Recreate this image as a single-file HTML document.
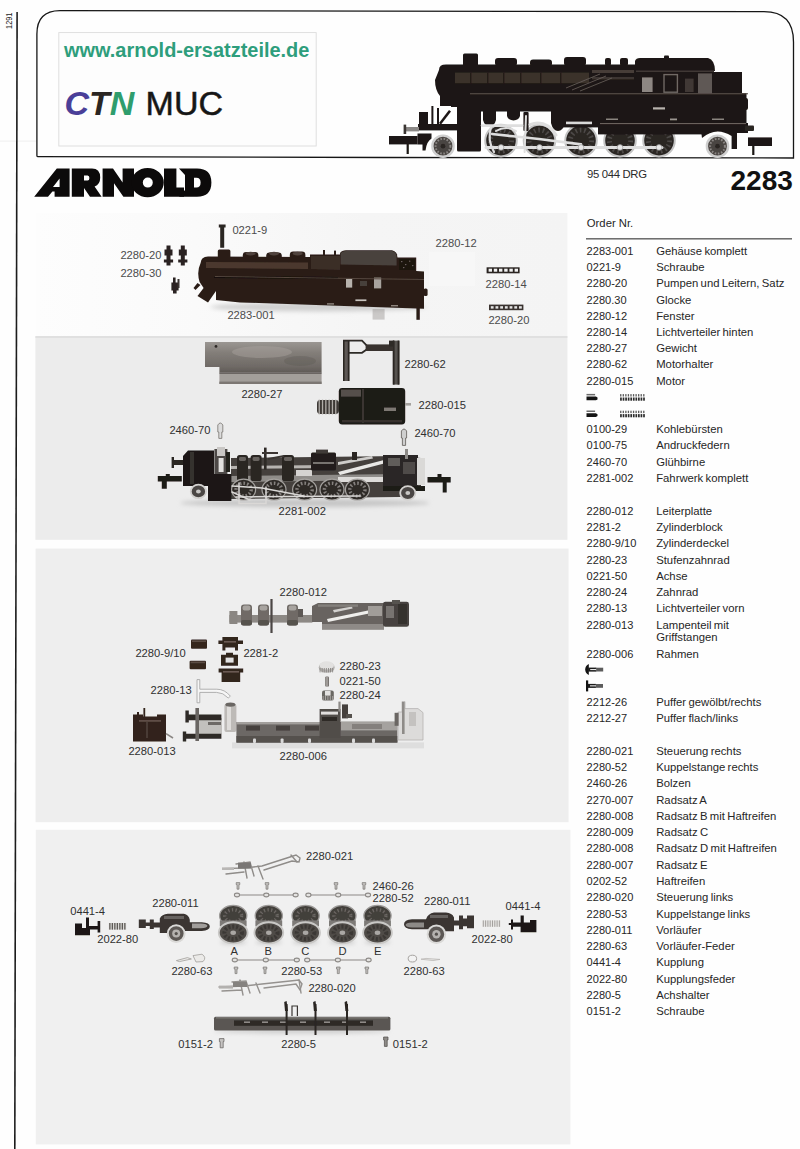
<!DOCTYPE html>
<html lang="de">
<head>
<meta charset="utf-8">
<title>Arnold 2283 - 95 044 DRG - Ersatzteile</title>
<style>
html,body{margin:0;padding:0;background:#fefefe;}
body{width:800px;height:1149px;overflow:hidden;position:relative;font-family:"Liberation Sans",sans-serif;}
svg{position:absolute;left:0;top:0;display:block;}
text{font-family:"Liberation Sans",sans-serif;}
.lbl{font-size:11.2px;fill:#303030;}
.row{font-size:11.3px;fill:#262626;}
</style>
</head>
<body>
<svg width="800" height="1149" viewBox="0 0 800 1149">
<rect x="0" y="140.600" width="36" height="1" fill="#efefef"/>
<path d="M17.1 12 L14.8 1149" stroke="#1c1c1c" stroke-width="1.600" fill="none"/>
<text transform="translate(11.900 28.900) rotate(-90)" font-size="9" fill="#222" textLength="16.200" lengthAdjust="spacingAndGlyphs">1291</text>
<rect x="58.800" y="32.600" width="257.400" height="113.400" fill="#fdfdfd" stroke="#dcdcdc" stroke-width=".9"/>
<text x="64" y="57.4" font-size="20" font-weight="bold" fill="#2e9e7c" textLength="245.400" lengthAdjust="spacingAndGlyphs">www.arnold-ersatzteile.de</text>
<text x="64.5" y="115" font-size="34" font-weight="bold" font-style="italic"><tspan fill="#4a3f98">C</tspan><tspan fill="#2b2622">T</tspan><tspan fill="#2f9d6d">N</tspan></text>
<text x="145.6" y="115" font-size="34" fill="#161616" stroke="#161616" stroke-width=".5">MUC</text>
<path d="M384 157.500 L38 156.700 Q36.900 156.700 36.900 155.400 L36.900 34 Q36.900 10.600 60 10.600 L764 11.700 Q793.500 11.700 793.500 42 L793.500 158 L384 157.500" stroke="#161616" stroke-width="1.300" fill="none"/>
<g id="loco" filter="url(#soft)">
<circle cx="443" cy="146.2" r="10.6" fill="#4a4542" stroke="#cfcfcf" stroke-width="2.4"/>
<circle cx="443" cy="146.2" r="7.4" fill="none" stroke="#8b8785" stroke-width="2" stroke-dasharray="1.6 1.6"/>
<circle cx="443" cy="146.2" r="2.4" fill="#2a2624"/>
<circle cx="717.5" cy="146.2" r="10.6" fill="#4a4542" stroke="#cfcfcf" stroke-width="2.4"/>
<circle cx="717.5" cy="146.2" r="7.4" fill="none" stroke="#8b8785" stroke-width="2" stroke-dasharray="1.6 1.6"/>
<circle cx="717.5" cy="146.2" r="2.4" fill="#2a2624"/>
<circle cx="501" cy="140.6" r="15.800" fill="#2a2624" stroke="#c4c4c4" stroke-width="2"/>
<circle cx="501" cy="140.6" r="10.600" fill="none" stroke="#4d4947" stroke-width="5" stroke-dasharray="1.600 2.800"/>
<circle cx="539.5" cy="140.6" r="15.800" fill="#2a2624" stroke="#c4c4c4" stroke-width="2"/>
<circle cx="539.5" cy="140.6" r="10.600" fill="none" stroke="#4d4947" stroke-width="5" stroke-dasharray="1.600 2.800"/>
<circle cx="581" cy="140.6" r="15.800" fill="#2a2624" stroke="#c4c4c4" stroke-width="2"/>
<circle cx="581" cy="140.6" r="10.600" fill="none" stroke="#4d4947" stroke-width="5" stroke-dasharray="1.600 2.800"/>
<circle cx="620" cy="140.6" r="15.800" fill="#2a2624" stroke="#c4c4c4" stroke-width="2"/>
<circle cx="620" cy="140.6" r="10.600" fill="none" stroke="#4d4947" stroke-width="5" stroke-dasharray="1.600 2.800"/>
<circle cx="659" cy="140.6" r="15.800" fill="#2a2624" stroke="#c4c4c4" stroke-width="2"/>
<circle cx="659" cy="140.6" r="10.600" fill="none" stroke="#4d4947" stroke-width="5" stroke-dasharray="1.600 2.800"/>
<g fill="#1d1614">
<rect x="389" y="136" width="28.5" height="8.4"/>
<rect x="406.6" y="143" width="2.2" height="11"/>
<rect x="748" y="137.4" width="24" height="8.6"/>
<rect x="752.2" y="145" width="2.2" height="10"/>
<path d="M417.5 133.6 h14 v5 q-5 3 -6 12 h-3 v-6 h-5 z"/>
<rect x="418" y="124" width="42" height="6.4"/>
<rect x="419" y="112" width="9" height="13"/>
<rect x="431.4" y="106" width="2" height="19"/>
<rect x="437" y="108" width="2" height="17"/>
<path d="M439 123 L449 110 L451 111.4 L441 124.4 Z"/>
<path d="M439 70 Q439 64.6 446 64.6 L640 64.6 L640 96 L452 96 L452 106 L440 106 L440 96 Q435 90 435 80 Z"/>
<rect x="451" y="92" width="30" height="15"/>
<rect x="457" y="92" width="24" height="59.400" rx="1.500"/>
<rect x="463" y="53.6" width="15" height="13" rx="1.5"/>
<rect x="495" y="58" width="22" height="8" rx="3"/>
<rect x="530" y="59.6" width="22" height="7" rx="3"/>
<rect x="564" y="57" width="22" height="9" rx="3"/>
<rect x="605" y="58" width="6" height="8" rx="2"/>
<rect x="620" y="58" width="8" height="8" rx="2"/>
<path d="M469 93 L746.500 93 L746.500 123.400 L556 123.400 L556 111.400 L469 111.400 Z"/>
<path d="M483 111 h13 v9 q-1.500 6 -6.500 6 q-5 0 -6.500 -6 z"/>
<path d="M507 111 h13 v5 q-1.500 4.400 -6.500 4.400 q-5 0 -6.500 -4.400 z"/>
<rect x="523.400" y="112" width="5.200" height="19" rx="1"/>
<path d="M551 111 h14 v12 q-2 8 -7 8 q-5 0 -7 -8 z"/>
<rect x="560" y="121" width="186" height="6.400"/>
<rect x="598" y="126" width="104" height="8.400"/>
<path d="M635 71 L635 61 Q636 58 640 58 L708 58 Q715 60 715 71 Z"/>
<rect x="635" y="70" width="79" height="26"/>
<rect x="713" y="72" width="29" height="24"/>
<rect x="664" y="55.6" width="5" height="4" rx="1"/>
<path d="M700 123 L748 123 L748 133 L737 133 L737 149 L731.6 149 L731.6 136 Q716 126 702 138 Z"/>
<rect x="742" y="98" width="6" height="12" rx="2"/>
<rect x="745" y="125.600" width="9" height="5.400" rx="1" fill="#2a2624"/>
</g>
<rect x="406" y="127" width="13" height="4.4" fill="#8b8886"/>
<rect x="403.6" y="124.6" width="2.6" height="9.4" fill="#3a3533"/>
<rect x="642" y="77.400" width="10.600" height="14.600" fill="#8d8783"/>
<rect x="664" y="74.600" width="13.400" height="17.600" fill="none" stroke="#6f6965" stroke-width="1.400"/>
<rect x="698" y="73.400" width="14" height="20" fill="#5f5955"/>
<rect x="685" y="78.600" width="8.600" height="13.400" fill="#3f3936"/>
<rect x="636" y="70.600" width="78" height="1.200" fill="#4a433f"/>
<rect x="653" y="107.3" width="12" height="2.2" fill="#b8b3ae"/>
<rect x="670" y="118.5" width="7" height="1.8" fill="#9a9590"/>
<rect x="606" y="118.5" width="12" height="1.5" fill="#8a8580"/>
<rect x="712" y="118.5" width="12" height="1.5" fill="#8a8580"/>
<rect x="470" y="93.2" width="278" height="1.1" fill="#5a524d"/>
<rect x="566" y="121.600" width="26" height="2.600" fill="#d9d9d9"/>
<rect x="600" y="123" width="146" height="1.100" fill="#6a625d"/>
<rect x="455" y="72.600" width="134" height="10.600" fill="#3b312c"/>
<rect x="470" y="72.600" width="1.400" height="10.600" fill="#241b18"/>
<rect x="487" y="72.600" width="1.400" height="10.600" fill="#241b18"/>
<rect x="503" y="72.600" width="1.400" height="10.600" fill="#241b18"/>
<rect x="520" y="72.600" width="1.400" height="10.600" fill="#241b18"/>
<rect x="540" y="72.600" width="1.400" height="10.600" fill="#241b18"/>
<rect x="560" y="72.600" width="1.400" height="10.600" fill="#241b18"/>
<rect x="592" y="70" width="42" height="3" fill="#463d38"/>
<rect x="592" y="77" width="42" height="2.400" fill="#3d3430"/>
<path d="M566 88 L600 74 M572 90 L606 76 M580 91 L612 78" stroke="#6a635e" stroke-width=".8" fill="none"/>
<g stroke="#dedede" fill="none" stroke-linecap="round">
<path d="M486 147.400 L662 147.400" stroke-width="3"/>
<path d="M492 134 L539 139 L581 144.400" stroke-width="2.600"/>
<path d="M482 125.600 L522 125.600" stroke-width="2.600"/>
<path d="M526 116 L524.600 152" stroke-width="2"/>
<path d="M530 124.600 Q546 119 556 135" stroke-width="3"/>
<path d="M491 127 Q487 140 494 152" stroke-width="2.200"/>
<path d="M496 131 Q506 125 516 131" stroke-width="2"/>
</g>
<g fill="#e8e8e8" stroke="#8d8d8d" stroke-width=".6">
<circle cx="501" cy="147.400" r="2.800"/>
<circle cx="539.5" cy="147.400" r="2.800"/>
<circle cx="581" cy="147.400" r="2.800"/>
<circle cx="620" cy="147.400" r="2.800"/>
<circle cx="659" cy="147.400" r="2.800"/>
</g>
</g>

<g id="arnold-logo" fill="#0c0a0a">
<path fill-rule="evenodd" d="M34.2 196.8 L56.8 168.6 L69.6 168.6 L69.600 196.800 L54.600 196.800 L54.600 191.400 L52.400 191.400 L48 196.800 Z M59.6 178.6 L59.6 187 L53 187 Z"/>
<path fill-rule="evenodd" d="M71.8 168.6 L92 168.6 Q100.2 168.6 100.2 177.6 Q100.2 184.6 94.6 186.6 L101.6 196.8 L90 196.8 L84 188 L84 196.8 L71.8 196.8 Z M84 175.4 L87.6 175.4 Q89.4 175.4 89.4 178 Q89.4 180.6 87.6 180.6 L84 180.6 Z"/>
<path d="M102.6 168.6 L113 168.6 L122.6 182.4 L122.6 168.6 L134 168.6 L134 196.8 L123.4 196.8 L114 183.2 L114 196.8 L102.6 196.8 Z"/>
<path fill-rule="evenodd" d="M147.6 168 A16.2 14.6 0 1 0 147.6 197.2 A16.2 14.6 0 1 0 147.6 168 Z M147.8 177.6 A5 5 0 1 1 147.8 187.6 A5 5 0 1 1 147.8 177.6 Z"/>
<path d="M164 168.6 L176.4 168.6 L176.4 187.6 L184 187.6 L184 196.8 L164 196.8 Z"/>
<path fill-rule="evenodd" d="M179 168.6 L197 168.6 Q211.4 168.6 211.4 182.6 Q211.4 196.8 197 196.8 L179 196.8 L185 190 L185 175 Z M194 177.8 L196.4 177.8 Q200.6 177.8 200.6 182.6 Q200.6 187.6 196.4 187.6 L194 187.6 Z"/>
</g>

<text x="587" y="177.6" font-size="11.3" fill="#2a2a2a" textLength="60" lengthAdjust="spacing">95 044 DRG</text>
<text x="730.5" y="190" font-size="28" font-weight="bold" fill="#111">2283</text>
<defs><linearGradient id="gP1" x1="0" y1="0" x2="1" y2="0"><stop offset="0" stop-color="#fdfdfd"/><stop offset=".3" stop-color="#fafafa"/><stop offset=".62" stop-color="#f5f5f5"/><stop offset="1" stop-color="#f4f4f4"/></linearGradient><linearGradient id="gWeight" x1="0" y1="0" x2="0" y2="1"><stop offset="0" stop-color="#9a9692"/><stop offset=".35" stop-color="#837e79"/><stop offset=".8" stop-color="#6f6a66"/><stop offset="1" stop-color="#5f5a56"/></linearGradient><filter id="shadow" x="-10%" y="-80%" width="120%" height="260%"><feGaussianBlur stdDeviation="2.200"/></filter><filter id="soft" x="-5%" y="-5%" width="110%" height="110%"><feGaussianBlur stdDeviation=".45"/></filter></defs>
<g id="panel1">
<rect x="36" y="213" width="531.400" height="123.500" fill="url(#gP1)"/>
<rect x="429" y="252" width="46" height="34" fill="#f7f7f7"/>
<g filter="url(#soft)">
<path d="M218.8 224.4 h6.8 v3 h-1.400 v20.400 h-4 v-20.400 h-1.400 z" fill="#2a2522"/>
<path d="M166.5 245.5 h4 v4 h2 v6 h-2 v4 h2.6 v3 h-2.6 v3 h-4 v-3 h-2.6 v-3 h2.6 v-4 h-2 v-6 h2 z" fill="#2a2421"/>
<path d="M180.8 245.5 h4 v4 h2 v6 h-2 v4 h2.6 v3 h-2.6 v3 h-4 v-3 h-2.6 v-3 h2.6 v-4 h-2 v-6 h2 z" fill="#2a2421"/>
<path d="M173 277.5 h2.6 v5 h3 v8 h-2 v3 h-3.6 v-3 h-1.6 v-8 h1.6 z" fill="#2a2421"/>
<rect x="177.5" y="279" width="2" height="9" fill="#3a3431"/>
</g>
<ellipse cx="318" cy="307" rx="108" ry="4.400" fill="#cfcfcf" filter="url(#shadow)"/>
<g filter="url(#soft)">
<g fill="#2a1d17">
<path d="M200.6 263 Q201 256.400 208 256.400 L310 257 L310 254.600 L340 254.600 L340 253 Q342 250.200 346 250.200 L392 250.200 Q397.500 251.400 397.500 257.400 L416.200 257.600 L416.200 271 L424 271.600 L424 308.800 L330 305.600 L240 302.400 L216 300 L216 291 L208 302.400 L197.500 296 L203.600 288 L199.600 282 Q196.400 272 200.600 263 Z"/>
<rect x="217.800" y="249.400" width="12.600" height="9" rx="1.600"/>
<rect x="242.800" y="252" width="15.600" height="8" rx="3.400"/>
<rect x="266.200" y="252.400" width="15.600" height="7.600" rx="3.400"/>
<rect x="289.800" y="251.600" width="15.600" height="8" rx="3.400"/>
<rect x="323" y="250" width="2" height="7"/>
<rect x="334" y="250.600" width="2" height="6"/>
<rect x="416.400" y="304" width="3.400" height="15.800"/>
<rect x="423.600" y="288.400" width="4" height="7.600" rx="1.600"/>
<path d="M197.500 283 l-4 5 l2 2 l5 -5 z"/>
</g>
<rect x="372.600" y="309" width="12" height="10.600" fill="#8d8884" opacity=".4"/>
<path d="M206 262 L308 262.600 L308 269 L206 268 Z" fill="#4b392f"/>
<path d="M214 276 L338 277 L338 279 L214 278 Z" fill="#120b08"/>
<path d="M340.600 253.600 Q342 251 346 251 L392 251 Q396.600 252 396.600 257 L396.600 265.600 L340.600 264.600 Z" fill="#4a423e"/>
<path d="M311 256 L340 256 L340 270 L311 269 Z" fill="#3a2d27"/>
<rect x="399" y="259" width="16" height="11" fill="#1a120e"/>
<rect x="401" y="261" width="1.400" height="1.200" fill="#6b625d"/>
<rect x="405" y="264" width="1.400" height="1.200" fill="#6b625d"/>
<rect x="409" y="260.6" width="1.400" height="1.200" fill="#6b625d"/>
<rect x="412" y="265" width="1.400" height="1.200" fill="#6b625d"/>
<rect x="403" y="267" width="1.400" height="1.200" fill="#6b625d"/>
<ellipse cx="250.6" cy="253.600" rx="5" ry="1.800" fill="#50433c"/>
<ellipse cx="274" cy="253.600" rx="5" ry="1.800" fill="#50433c"/>
<ellipse cx="297.6" cy="253.600" rx="5" ry="1.800" fill="#50433c"/>
<rect x="346" y="279" width="6.200" height="8.600" fill="#b7b2ad"/>
<rect x="374" y="277.600" width="7.200" height="10.800" fill="#a8a39e"/>
<rect x="360" y="281" width="7" height="5" fill="#47403b"/>
<rect x="355.400" y="299.400" width="11" height="1.700" fill="#c9c4bf"/>
<rect x="327" y="303.200" width="7" height="1.400" fill="#8e857e"/>
<rect x="391" y="305" width="7" height="1.400" fill="#8e857e"/>
<path d="M214.700 276 L424 279 L424 280 L214.700 277 Z" fill="#54463e"/>
</g>
<rect x="486.600" y="267.300" width="33" height="6" fill="#2a2421"/>
<rect x="488.6" y="268.700" width="3.400" height="3" fill="#f2f2f2"/>
<rect x="493.8" y="268.700" width="3.400" height="3" fill="#f2f2f2"/>
<rect x="499.0" y="268.700" width="3.400" height="3" fill="#f2f2f2"/>
<rect x="504.20000000000005" y="268.700" width="3.400" height="3" fill="#f2f2f2"/>
<rect x="509.40000000000003" y="268.700" width="3.400" height="3" fill="#f2f2f2"/>
<rect x="514.6" y="268.700" width="3.400" height="3" fill="#f2f2f2"/>
<rect x="489" y="304.6" width="34.4" height="5.6" fill="#3a3330"/>
<rect x="490.8" y="306.2" width="2.8" height="2.4" fill="#e6e6e6"/>
<rect x="495.5" y="306.2" width="2.8" height="2.4" fill="#e6e6e6"/>
<rect x="500.2" y="306.2" width="2.8" height="2.4" fill="#e6e6e6"/>
<rect x="504.90000000000003" y="306.2" width="2.8" height="2.4" fill="#e6e6e6"/>
<rect x="509.6" y="306.2" width="2.8" height="2.4" fill="#e6e6e6"/>
<rect x="514.3" y="306.2" width="2.8" height="2.4" fill="#e6e6e6"/>
<rect x="519.0" y="306.2" width="2.8" height="2.4" fill="#e6e6e6"/>
<text class="lbl" x="232.4" y="233.8" style="fill:#4c4c4c">0221-9</text>
<text class="lbl" x="120.4" y="259.2" style="fill:#4c4c4c">2280-20</text>
<text class="lbl" x="120.4" y="276.6" style="fill:#4c4c4c">2280-30</text>
<text class="lbl" x="227.4" y="319.2" style="fill:#4c4c4c">2283-001</text>
<text class="lbl" x="435.6" y="247.2" style="fill:#4c4c4c">2280-12</text>
<text class="lbl" x="485.6" y="287.8" style="fill:#4c4c4c">2280-14</text>
<text class="lbl" x="488.4" y="323.8" style="fill:#4c4c4c">2280-20</text>
</g>
<g id="panel2">
<rect x="35.4" y="336.2" width="532" height="203.6" fill="#ececec"/>
<rect x="35.4" y="336.2" width="532" height="1.6" fill="#dcdcdc"/>
<g filter="url(#soft)">
<path d="M205 342 L321.6 342 L321.6 372.6 L219.4 372.6 L219.4 367 L205 367 Z" fill="url(#gWeight)"/>
<ellipse cx="262" cy="352" rx="30" ry="6" fill="#aaa59f" opacity=".45"/>
<ellipse cx="300" cy="361" rx="16" ry="5" fill="#5d5853" opacity=".35"/>
<rect x="219.4" y="373.4" width="102.2" height="10.6" fill="#a29e9a"/>
<rect x="219.4" y="381.6" width="102.2" height="2.4" fill="#7b7773"/>
<rect x="219.4" y="372.4" width="102.2" height="1.4" fill="#56514d"/>
<circle cx="216" cy="346.4" r="1.4" fill="#2f2b28"/>
</g>
<g filter="url(#soft)">
<rect x="343" y="340" width="6.400" height="41" fill="#5d5955"/>
<rect x="343" y="340" width="1.600" height="41" fill="#2b2724"/>
<rect x="347.800" y="340" width="1.600" height="41" fill="#2b2724"/>
<rect x="392.800" y="340.600" width="6.600" height="44" fill="#57534f"/>
<rect x="392.800" y="340.600" width="1.800" height="44" fill="#2b2724"/>
<rect x="397.600" y="340.600" width="1.800" height="44" fill="#2b2724"/>
<path d="M343 340.600 L362 340.600 L366.600 345.400 M349 352.800 L362 352.800 L366.600 349.600" fill="none" stroke="#2f2b28" stroke-width="1.800"/>
<rect x="365.600" y="344.400" width="27.600" height="6.600" fill="#37332f"/>
<rect x="389" y="340.600" width="5" height="6" fill="#2f2b28"/>
</g>
<g filter="url(#soft)">
<rect x="338.8" y="388" width="66.4" height="36.4" rx="3.4" fill="#1f1a18"/>
<rect x="341" y="389.6" width="20" height="7" fill="#55504c"/>
<rect x="362" y="389" width="2" height="34" fill="#3b3633"/>
<rect x="384" y="407.6" width="12" height="3.4" fill="#7d7873"/>
<rect x="342" y="420" width="60" height="2.4" fill="#38332f"/>
<rect x="405" y="403" width="6" height="2.6" fill="#a5a29f"/>
<rect x="317" y="400" width="22" height="14" rx="3.4" fill="#3d3835"/>
<rect x="318.6" y="399.6" width="1.3" height="14.8" fill="#b1ada9"/>
<rect x="321.90000000000003" y="399.6" width="1.3" height="14.8" fill="#b1ada9"/>
<rect x="325.20000000000005" y="399.6" width="1.3" height="14.8" fill="#b1ada9"/>
<rect x="328.5" y="399.6" width="1.3" height="14.8" fill="#b1ada9"/>
<rect x="331.8" y="399.6" width="1.3" height="14.8" fill="#b1ada9"/>
<rect x="335.1" y="399.6" width="1.3" height="14.8" fill="#b1ada9"/>
</g>
<path d="M217.8 425 q2.5 -4 5 0 v7 h-1 v6.4 h-3 v-6.4 h-1 z" fill="#dcdcdc" stroke="#77736f" stroke-width=".8"/>
<path d="M401.4 431 q2.6 -4 5.2 0 v7 h-1 v7.4 h-3.2 v-7.4 h-1 z" fill="#cfcfcf" stroke="#5d5955" stroke-width=".8"/>
<ellipse cx="305" cy="503" rx="125" ry="4" fill="#c6c6c6" filter="url(#shadow)"/>
<g filter="url(#soft)">
<path d="M157.800 476 h8 v-2 h4 v2 h12 v5.400 h-15 v7.400 h-5 v-7.400 h-4 z" fill="#1f1b19"/>
<path d="M427.500 477 h10 v-3 h4 v3 h9.200 v5.400 h-4 v10 h-4 v-10 h-15.200 z" fill="#1f1b19"/>
<rect x="173" y="460" width="12" height="5" fill="#2a2624"/>
<rect x="171.6" y="457" width="2.4" height="11" fill="#2a2624"/>
<path d="M231 458 L400 456 L421 458 L421 487 L400 497 L231 499 Z" fill="#45413e"/>
<path d="M231 476 L400 474 L400 480 L231 482 Z" fill="#8f8c89"/>
<path d="M231 466 L330 465 L330 468 L231 469 Z" fill="#b7b4b1"/>
<path d="M183 456 L188 450.6 L214 450.6 L214 474 L231.4 474 L231.4 501 L208 501 L208 486 L183 486 Z" fill="#1b1715"/>
<rect x="190" y="452" width="4" height="32" fill="#34302d"/>
<rect x="214.4" y="449" width="13" height="25" fill="#4d4946"/>
<rect x="217" y="447" width="8" height="9" fill="#c9c7c5"/>
<rect x="218.6" y="458" width="5" height="14" fill="#e2e1df"/>
<rect x="226" y="452" width="4" height="20" fill="#24201e"/>
<rect x="237" y="455" width="11" height="26" rx="2.6" fill="#2a2623"/>
<rect x="239" y="457" width="7" height="4" rx="1.4" fill="#67635f"/>
<rect x="250.6" y="455" width="11" height="26" rx="2.6" fill="#2a2623"/>
<rect x="252.6" y="457" width="7" height="4" rx="1.4" fill="#67635f"/>
<rect x="282" y="455" width="12" height="26" rx="2.6" fill="#2a2623"/>
<rect x="284" y="457" width="8" height="4" rx="1.4" fill="#67635f"/>
<rect x="264" y="447.6" width="2.6" height="22" fill="#2d2926"/>
<path d="M262 452 h16 v2 h-16 z M268 458 l16 -3 v2 l-16 3 z" fill="#3a3633"/>
<rect x="296" y="470" width="16" height="6" fill="#d5d3d1"/>
<rect x="311" y="452.4" width="25" height="18" rx="1.5" fill="#221e1c"/>
<rect x="316" y="449.6" width="12" height="4" fill="#3f3b38"/>
<rect x="313" y="462" width="21" height="2" fill="#77736f"/>
<path d="M338 472 L384 460 L386 463 L340 475 Z" fill="#e9e8e6"/>
<path d="M338 462 L372 456 L373 458.4 L338 465 Z" fill="#cfcdcb"/>
<rect x="352" y="452" width="5" height="8" fill="#2a2623"/>
<rect x="338" y="477" width="46" height="5" fill="#dddbd9"/>
<rect x="383" y="455" width="35" height="31" fill="#2c2825"/>
<rect x="388" y="458" width="12" height="8" fill="#615d5a"/>
<rect x="405" y="449" width="3" height="10" fill="#8d8a87"/>
<rect x="403" y="462" width="12" height="12" fill="#4f4b48"/>
<path d="M417 458 h8 v27 h-8 z" fill="#dad9d7"/>
<path d="M383 486 h42 v5 h-42 z" fill="#1f1b19"/>
<ellipse cx="243.6" cy="489.6" rx="12" ry="10.4" fill="#2f2b28" stroke="#a5a29f" stroke-width="1.2"/>
<ellipse cx="243.6" cy="489.6" rx="7.6" ry="6.4" fill="none" stroke="#85817e" stroke-width="3.4" stroke-dasharray="1.6 2"/>
<ellipse cx="274" cy="489.6" rx="12" ry="10.4" fill="#2f2b28" stroke="#a5a29f" stroke-width="1.2"/>
<ellipse cx="274" cy="489.6" rx="7.6" ry="6.4" fill="none" stroke="#85817e" stroke-width="3.4" stroke-dasharray="1.6 2"/>
<ellipse cx="304.6" cy="489.6" rx="12" ry="10.4" fill="#2f2b28" stroke="#a5a29f" stroke-width="1.2"/>
<ellipse cx="304.6" cy="489.6" rx="7.6" ry="6.4" fill="none" stroke="#85817e" stroke-width="3.4" stroke-dasharray="1.6 2"/>
<ellipse cx="332" cy="489.6" rx="12" ry="10.4" fill="#2f2b28" stroke="#a5a29f" stroke-width="1.2"/>
<ellipse cx="332" cy="489.6" rx="7.6" ry="6.4" fill="none" stroke="#85817e" stroke-width="3.4" stroke-dasharray="1.6 2"/>
<ellipse cx="357.4" cy="489.6" rx="12" ry="10.4" fill="#2f2b28" stroke="#a5a29f" stroke-width="1.2"/>
<ellipse cx="357.4" cy="489.6" rx="7.6" ry="6.4" fill="none" stroke="#85817e" stroke-width="3.4" stroke-dasharray="1.6 2"/>
<ellipse cx="198.4" cy="491.4" rx="7.6" ry="6.8" fill="#4b4744" stroke="#d3d1cf" stroke-width="1.8"/>
<ellipse cx="198.4" cy="491.4" rx="2.4" ry="2" fill="#c9c7c5"/>
<ellipse cx="407.8" cy="493" rx="7.6" ry="6.8" fill="#4b4744" stroke="#d3d1cf" stroke-width="1.8"/>
<ellipse cx="407.8" cy="493" rx="2.4" ry="2" fill="#c9c7c5"/>
<g stroke="#dad8d6" stroke-width="1.5" fill="none" stroke-linecap="round">
<path d="M236 497 L360 496"/>
<path d="M232 486 L262 488 L304 496"/>
<path d="M239 483 L239 503.6 L266 503.6 L266 487"/>
<path d="M232 492 L250 500"/>
</g>
</g>
<text class="lbl" x="241.4" y="397.5">2280-27</text>
<text class="lbl" x="404.6" y="368.1">2280-62</text>
<text class="lbl" x="418.6" y="408.7">2280-015</text>
<text class="lbl" x="169.4" y="434.2">2460-70</text>
<text class="lbl" x="414.4" y="437.4">2460-70</text>
<text class="lbl" x="278.6" y="514.7">2281-002</text>
</g>
<g id="panel3">
<rect x="35.600" y="548.600" width="533" height="273.600" fill="#eeeeee"/>
<g filter="url(#soft)">
<rect x="229.4" y="615" width="83" height="7.6" fill="#8d8985"/>
<rect x="229.4" y="611" width="8" height="13" fill="#8a8682"/>
<rect x="241" y="604.4" width="11" height="21" rx="3" fill="#6f6a66"/>
<rect x="242.6" y="605.6" width="7.8" height="5" rx="2" fill="#a8a4a0"/>
<rect x="241" y="620" width="11" height="5.4" rx="2" fill="#57524e"/>
<rect x="258" y="604.4" width="11" height="21" rx="3" fill="#6f6a66"/>
<rect x="259.6" y="605.6" width="7.8" height="5" rx="2" fill="#a8a4a0"/>
<rect x="258" y="620" width="11" height="5.4" rx="2" fill="#57524e"/>
<rect x="287" y="604.4" width="11" height="21" rx="3" fill="#6f6a66"/>
<rect x="288.6" y="605.6" width="7.8" height="5" rx="2" fill="#a8a4a0"/>
<rect x="287" y="620" width="11" height="5.4" rx="2" fill="#57524e"/>
<rect x="270.4" y="599" width="2.2" height="34" fill="#4b4744"/>
<rect x="298" y="609" width="5" height="8" fill="#5d5955"/>
<path d="M312 606 L318 603 L384 603 L384 629.4 L322 629.4 L322 622 L312 622 Z" fill="#686460"/>
<rect x="322" y="624" width="62" height="5.4" fill="#8e8a87"/>
<path d="M327 619 L368 610.6 L369 613.6 L328 622 Z" fill="#efeeec"/>
<path d="M333 610 L352 606.4 L352.6 608.6 L334 612.4 Z" fill="#d3d1cf"/>
<rect x="318" y="604.4" width="40" height="2.4" fill="#84807c"/>
<rect x="368" y="606" width="14" height="10" fill="#a19d99"/>
<rect x="383" y="601.800" width="26" height="25" rx="2.400" fill="#47433f"/>
<rect x="392" y="600" width="8" height="4" fill="#57534f"/>
<rect x="386" y="606" width="8" height="12" fill="#77736f"/>
<rect x="398" y="604" width="9" height="20" fill="#35312e"/>
</g>
<g filter="url(#soft)">
<rect x="191" y="639.6" width="16" height="9.2" rx="1" fill="#34261f"/>
<rect x="189.6" y="660.8" width="16.4" height="8.4" rx="1" fill="#34261f"/>
<rect x="192" y="640.4" width="14" height="1.6" fill="#5c4d45"/>
<rect x="190.6" y="661.6" width="14.4" height="1.6" fill="#5c4d45"/>
<g fill="#33251f">
<path d="M222.4 637 h15.6 v3.4 h5 v3.6 h-5 v6.6 h-3 v-3 h-9.6 v3 h-3 v-6.6 h-4 v-3.6 h4 z"/>
<path d="M221 654.8 h5 v-2 h7 v2 h5 v11 h-17 z"/>
<path d="M218.6 668.6 h24.6 v4 h-3 v9.4 h-18.6 v-9.4 h-3 z"/>
</g>
<rect x="225.6" y="657.6" width="8" height="5" fill="#e3e3e3"/>
<rect x="224" y="641" width="12" height="1.6" fill="#6a5a52"/>
<rect x="223" y="671" width="16" height="1.6" fill="#6a5a52"/>
</g>
<g filter="url(#soft)">
<ellipse cx="326.7" cy="667.4" rx="8" ry="5.4" fill="#b5b3b1"/>
<ellipse cx="326.7" cy="665.4" rx="7.2" ry="4.2" fill="#e2e1e0"/>
<rect x="319.6" y="668" width=".9" height="4.4" fill="#8a8784"/>
<rect x="321.70000000000005" y="668" width=".9" height="4.4" fill="#8a8784"/>
<rect x="323.8" y="668" width=".9" height="4.4" fill="#8a8784"/>
<rect x="325.90000000000003" y="668" width=".9" height="4.4" fill="#8a8784"/>
<rect x="328.0" y="668" width=".9" height="4.4" fill="#8a8784"/>
<rect x="330.1" y="668" width=".9" height="4.4" fill="#8a8784"/>
<rect x="332.20000000000005" y="668" width=".9" height="4.4" fill="#8a8784"/>
<rect x="325.2" y="676.4" width="3.8" height="10.2" rx="1.2" fill="#77736f"/>
<rect x="326.4" y="677" width="1.2" height="9" fill="#b8b5b2"/>
<rect x="322" y="690.4" width="11.8" height="10.2" rx="2" fill="#6b6763"/>
<rect x="325" y="691" width="5.6" height="4.6" fill="#e4e3e1"/>
<rect x="322.6" y="696" width="1" height="4.4" fill="#a9a6a3"/>
<rect x="325.0" y="696" width="1" height="4.4" fill="#a9a6a3"/>
<rect x="327.40000000000003" y="696" width="1" height="4.4" fill="#a9a6a3"/>
<rect x="329.8" y="696" width="1" height="4.4" fill="#a9a6a3"/>
<rect x="332.20000000000005" y="696" width="1" height="4.4" fill="#a9a6a3"/>
</g>
<path d="M197 679.6 h2.8 v9.6 h17 q8 0 13.6 7 l-2.2 1.8 q-5 -5.6 -11.6 -5.6 h-16.8 v10.4 h-2.8 z" fill="#f6f6f6" stroke="#a9a9a9" stroke-width=".9" filter="url(#soft)"/>
<g filter="url(#soft)">
<path d="M133 714.6 h10 v2 h14 v-2 h9 v26.8 h-33 z" fill="#30231d"/>
<rect x="143.4" y="708" width="1.8" height="9" fill="#30231d"/>
<rect x="137" y="712" width="2" height="5" fill="#30231d"/>
<rect x="139" y="720" width="22" height="1.8" fill="#5e4e46"/>
<rect x="146" y="722" width="2" height="16" fill="#4a3b34"/>
<path d="M166 733.6 l7 4.4" stroke="#8a8683" stroke-width="1.6"/>
</g>
<g filter="url(#soft)">
<rect x="232" y="742.4" width="192" height="6" fill="#dedede"/>
<rect x="199" y="718" width="23" height="16" fill="#c2c0bd"/>
<path d="M185.4 710.4 h3.4 v4 h32.6 v5.8 h-32.6 v2.4 h-3.4 z" fill="#2d2926"/>
<path d="M182.8 731.4 h3.4 v2.4 h35.2 v5 h-35.2 v2.8 h-3.4 z" fill="#2d2926"/>
<rect x="195.400" y="708" width="3.600" height="33" fill="#6a6663"/>
<rect x="208" y="722" width="13" height="3" fill="#6d6966"/>
<rect x="224.4" y="704" width="12" height="28" rx="2" fill="#bdbab7"/>
<rect x="227" y="706" width="4" height="24" fill="#dfdddb"/>
<ellipse cx="230.4" cy="704.6" rx="5" ry="2.2" fill="#6a6663"/>
<rect x="236.4" y="722" width="161" height="20.6" fill="#6c6865"/>
<rect x="236.4" y="722" width="84" height="2.4" fill="#a29f9c"/>
<rect x="236.4" y="736" width="161" height="6.6" fill="#55514e"/>
<rect x="246" y="725.6" width="14" height="5" fill="#45413e"/>
<rect x="276" y="725.6" width="14" height="5" fill="#45413e"/>
<rect x="305" y="725.6" width="14" height="5" fill="#45413e"/>
<rect x="253" y="738.6" width="3" height="4.4" rx="1" fill="#d9d9d9"/>
<rect x="280.6" y="738.6" width="3" height="4.4" rx="1" fill="#d9d9d9"/>
<rect x="308" y="738.6" width="3" height="4.4" rx="1" fill="#d9d9d9"/>
<rect x="352" y="738.6" width="3" height="4.4" rx="1" fill="#d9d9d9"/>
<rect x="372" y="738.6" width="3" height="4.4" rx="1" fill="#d9d9d9"/>
<rect x="319.6" y="709" width="21" height="29" fill="#514d4a"/>
<rect x="321" y="711.6" width="17" height="3" fill="#e1dfdd"/>
<rect x="322" y="717" width="15" height="4" fill="#2f2b28"/>
<rect x="338.4" y="701.6" width="2.2" height="10" fill="#8d8a87"/>
<rect x="342" y="704.4" width="6" height="14" fill="#44403d"/>
<rect x="346" y="714" width="6" height="4" fill="#55514e"/>
<rect x="341" y="721.4" width="56" height="9" fill="#a5a29f"/>
<rect x="352" y="724" width="30" height="5" fill="#84807d"/>
<path d="M398 712 h4 v-10.4 h3 v7 h13 l5 4 v27.4 h-25 z" fill="#dcdbda" stroke="#b5b3b1" stroke-width=".8"/>
<rect x="394.6" y="712.8" width="4" height="13" fill="#6a6663"/>
<rect x="402" y="702" width="2.6" height="32" fill="#8e8b88"/>
<rect x="409" y="712" width="7" height="14" fill="#c4c2c0"/>
</g>
<text class="lbl" x="279.6" y="595.7">2280-012</text>
<text class="lbl" x="135.4" y="657.0">2280-9/10</text>
<text class="lbl" x="243.4" y="657.0">2281-2</text>
<text class="lbl" x="339.6" y="669.7">2280-23</text>
<text class="lbl" x="339.6" y="684.5">0221-50</text>
<text class="lbl" x="339.6" y="699.1">2280-24</text>
<text class="lbl" x="150.6" y="693.9">2280-13</text>
<text class="lbl" x="128.4" y="754.7">2280-013</text>
<text class="lbl" x="279.6" y="760.3">2280-006</text>
</g>
<g id="panel4">
<rect x="35.800" y="829.800" width="534.600" height="314.600" fill="#f0f0f0"/>
<g filter="url(#soft)">
<g stroke="#8f8c89" stroke-width="1.4" fill="none" stroke-linecap="round">
<path d="M223 868.6 L244 868 L262 866 L290 857 L296 855 L300 858 L299 862 L292 861 L264 870"/>
<path d="M226 874 L244 872 M236 864 L250 862 L254 876 M244 862 L247 878 M258 866 L263 879"/>
<path d="M291 855 L297 862"/>
</g>
<rect x="238" y="862.6" width="13" height="6" fill="#7a7774"/>
<rect x="222" y="867.4" width="12" height="2.6" fill="#b9b7b5"/>
<g stroke="#95928f" stroke-width="1.4" fill="none" stroke-linecap="round">
<path d="M219 987 L244 986 L262 984 L290 981 L299 980 L302 984 L300 990 L296 984 L264 988"/>
<path d="M222 991 L242 990 M232 982 L246 981 L250 993 M240 980 L243 995 M256 983 L260 993"/>
<path d="M299 980 L301 993"/>
</g>
<rect x="233" y="982" width="14" height="5" fill="#85827f"/>
<rect x="219" y="985.6" width="14" height="3" fill="#b3b1af"/>
</g>
<g stroke="#8d8a87" stroke-width="1.1" fill="#e4e3e1" filter="url(#soft)">
<path d="M236 895 L296.6 895"/>
<ellipse cx="237" cy="895" rx="2.6" ry="1.9"/>
<ellipse cx="266.3" cy="895" rx="2.6" ry="1.9"/>
<ellipse cx="295.6" cy="895" rx="2.6" ry="1.9"/>
<path d="M307.4 895 L369 895"/>
<ellipse cx="308.4" cy="895" rx="2.6" ry="1.9"/>
<ellipse cx="338.2" cy="895" rx="2.6" ry="1.9"/>
<ellipse cx="368" cy="895" rx="2.6" ry="1.9"/>
<path d="M233.8 960 L297.8 960"/>
<ellipse cx="234.8" cy="960" rx="2.6" ry="1.9"/>
<ellipse cx="265.8" cy="960" rx="2.6" ry="1.9"/>
<ellipse cx="296.8" cy="960" rx="2.6" ry="1.9"/>
<path d="M306.2 960 L369.6 960"/>
<ellipse cx="307.2" cy="960" rx="2.6" ry="1.9"/>
<ellipse cx="337.9" cy="960" rx="2.6" ry="1.9"/>
<ellipse cx="368.6" cy="960" rx="2.6" ry="1.9"/>
</g>
<g fill="#c1bfbd" stroke="#6d6a67" stroke-width=".6">
<path d="M236.2 882.6 h3.6 v2 h-.8 v4.6 h-2 v-4.6 h-.8 z"/>
<path d="M265.2 882.6 h3.6 v2 h-.8 v4.6 h-2 v-4.6 h-.8 z"/>
<path d="M334.2 882.6 h3.6 v2 h-.8 v4.6 h-2 v-4.6 h-.8 z"/>
<path d="M362.2 882.6 h3.6 v2 h-.8 v4.6 h-2 v-4.6 h-.8 z"/>
<path d="M234.2 967 h3.6 v2 h-.8 v4.6 h-2 v-4.6 h-.8 z"/>
<path d="M263.2 967 h3.6 v2 h-.8 v4.6 h-2 v-4.6 h-.8 z"/>
<path d="M336.5 967 h3.6 v2 h-.8 v4.6 h-2 v-4.6 h-.8 z"/>
<path d="M365.0 967 h3.6 v2 h-.8 v4.6 h-2 v-4.6 h-.8 z"/>
</g>
<ellipse cx="233.2" cy="942" rx="13" ry="2.600" fill="#cccccc" filter="url(#shadow)"/>
<ellipse cx="268.8" cy="942" rx="13" ry="2.600" fill="#cccccc" filter="url(#shadow)"/>
<ellipse cx="305.6" cy="942" rx="13" ry="2.600" fill="#cccccc" filter="url(#shadow)"/>
<ellipse cx="342.4" cy="942" rx="13" ry="2.600" fill="#cccccc" filter="url(#shadow)"/>
<ellipse cx="377.5" cy="942" rx="13" ry="2.600" fill="#cccccc" filter="url(#shadow)"/>
<g filter="url(#soft)">
<g><ellipse cx="233.2" cy="915.8" rx="13.600" ry="10.400" fill="#433f3b" stroke="#9d9b99" stroke-width="1.300"/><ellipse cx="233.2" cy="915.8" rx="8.4" ry="6" fill="none" stroke="#6b6763" stroke-width="3.400" stroke-dasharray="1.300 2.300"/><rect x="219.79999999999998" y="920.4" width="26.800" height="6" fill="#7d7a77"/><ellipse cx="233.2" cy="932.8" rx="14.400" ry="10.600" fill="#4f4b47" stroke="#c9c8c6" stroke-width="1.900"/><ellipse cx="233.2" cy="932.8" rx="8.8" ry="6.2" fill="none" stroke="#3b3734" stroke-width="4" stroke-dasharray="2 1.8"/><ellipse cx="233.2" cy="932.8" rx="2.8" ry="2.2" fill="#aaa7a4"/></g>
<g><ellipse cx="268.8" cy="915.8" rx="13.600" ry="10.400" fill="#433f3b" stroke="#9d9b99" stroke-width="1.300"/><ellipse cx="268.8" cy="915.8" rx="8.4" ry="6" fill="none" stroke="#6b6763" stroke-width="3.400" stroke-dasharray="1.300 2.300"/><rect x="255.4" y="920.4" width="26.800" height="6" fill="#7d7a77"/><ellipse cx="268.8" cy="932.8" rx="14.400" ry="10.600" fill="#4f4b47" stroke="#c9c8c6" stroke-width="1.900"/><ellipse cx="268.8" cy="932.8" rx="8.8" ry="6.2" fill="none" stroke="#3b3734" stroke-width="4" stroke-dasharray="2 1.8"/><ellipse cx="268.8" cy="932.8" rx="2.8" ry="2.2" fill="#aaa7a4"/></g>
<g><ellipse cx="305.6" cy="915.8" rx="13.600" ry="10.400" fill="#433f3b" stroke="#9d9b99" stroke-width="1.300"/><ellipse cx="305.6" cy="915.8" rx="8.4" ry="6" fill="none" stroke="#6b6763" stroke-width="3.400" stroke-dasharray="1.300 2.300"/><rect x="292.20000000000005" y="920.4" width="26.800" height="6" fill="#7d7a77"/><ellipse cx="305.6" cy="932.8" rx="14.400" ry="10.600" fill="#4f4b47" stroke="#c9c8c6" stroke-width="1.900"/><ellipse cx="305.6" cy="932.8" rx="8.8" ry="6.2" fill="none" stroke="#3b3734" stroke-width="4" stroke-dasharray="2 1.8"/><ellipse cx="305.6" cy="932.8" rx="2.8" ry="2.2" fill="#aaa7a4"/></g>
<g><ellipse cx="342.4" cy="915.8" rx="13.600" ry="10.400" fill="#433f3b" stroke="#9d9b99" stroke-width="1.300"/><ellipse cx="342.4" cy="915.8" rx="8.4" ry="6" fill="none" stroke="#6b6763" stroke-width="3.400" stroke-dasharray="1.300 2.300"/><rect x="329.0" y="920.4" width="26.800" height="6" fill="#7d7a77"/><ellipse cx="342.4" cy="932.8" rx="14.400" ry="10.600" fill="#4f4b47" stroke="#c9c8c6" stroke-width="1.900"/><ellipse cx="342.4" cy="932.8" rx="8.8" ry="6.2" fill="none" stroke="#3b3734" stroke-width="4" stroke-dasharray="2 1.8"/><ellipse cx="342.4" cy="932.8" rx="2.8" ry="2.2" fill="#aaa7a4"/></g>
<g><ellipse cx="377.5" cy="915.8" rx="13.600" ry="10.400" fill="#433f3b" stroke="#9d9b99" stroke-width="1.300"/><ellipse cx="377.5" cy="915.8" rx="8.4" ry="6" fill="none" stroke="#6b6763" stroke-width="3.400" stroke-dasharray="1.300 2.300"/><rect x="364.1" y="920.4" width="26.800" height="6" fill="#7d7a77"/><ellipse cx="377.5" cy="932.8" rx="14.400" ry="10.600" fill="#4f4b47" stroke="#c9c8c6" stroke-width="1.900"/><ellipse cx="377.5" cy="932.8" rx="8.8" ry="6.2" fill="none" stroke="#3b3734" stroke-width="4" stroke-dasharray="2 1.8"/><ellipse cx="377.5" cy="932.8" rx="2.8" ry="2.2" fill="#aaa7a4"/></g>
</g>
<g filter="url(#soft)">
<path d="M138.8 919.6 h7 v3 h4 v-3 h4 v3 h6 v-4 q2 -4.4 8 -4.8 h16 q5 1 6 6 v2.4 h12 q8 .4 8 4.4 q0 4 -8 4.4 h-22 v2 h-20 v-5.6 h-6 v1.6 h-4 v-3 h-4 v2 h-7 z" fill="#3a3532"/>
<path d="M192 923.4 h9 q6.4 .2 6.4 2.4 q0 2.2 -6.4 2.4 h-9 z" fill="#a19e9b"/>
<rect x="164" y="916" width="20" height="3" fill="#66625e"/>
<circle cx="176.2" cy="933.6" r="8.4" fill="#5d5955" stroke="#dad9d7" stroke-width="2"/>
<circle cx="176.2" cy="933.6" r="4" fill="#b5b2af"/>
<circle cx="176.2" cy="933.6" r="1.6" fill="#55514e"/>
<path d="M474 915.4 h-7 v3 h-4 v-3 h-4 v5 h-5 v-3 q-2 -4.4 -8 -4.8 h-12 q-6 1 -8 6.6 h-14 q-8 .4 -8 5 q0 4.6 8 5 h22 v2 h20 v-5.6 h5 v3.6 h4 v-3 h4 v2 h7 z" fill="#3a3532"/>
<path d="M424 922.4 h-12 q-6.4 .2 -6.4 2.6 q0 2.4 6.4 2.6 h12 z" fill="#8d8a87"/>
<rect x="430" y="915" width="18" height="3" fill="#66625e"/>
<circle cx="436.4" cy="934.2" r="8.8" fill="#5d5955" stroke="#dad9d7" stroke-width="2"/>
<circle cx="436.4" cy="934.2" r="4.2" fill="#b5b2af"/>
<circle cx="436.4" cy="934.2" r="1.6" fill="#55514e"/>
</g>
<g filter="url(#soft)" fill="#1c1917">
<path d="M75 923.400 h7 v4.600 h4 v-10.400 h3 v8.400 h8.600 v-5 h2.600 v11.600 h-2.600 v-3 h-7.600 v5.600 h-15 z"/>
<path d="M536.400 920 h-6.400 v2.400 h-6.200 v-6.800 h-3.200 v6.800 h-7.600 v-3 h-2 v3.600 h-2.200 v2 h2.200 v4.400 h2 v-2.600 h7.600 v5.400 h15.800 z"/>
</g>
<rect x="108.8" y="923" width="17.4" height="6.6" fill="#d9d8d6"/>
<rect x="109.2" y="923" width="1.3" height="6.6" fill="#5e5a56"/>
<rect x="111.7" y="923" width="1.3" height="6.6" fill="#5e5a56"/>
<rect x="114.2" y="923" width="1.3" height="6.6" fill="#5e5a56"/>
<rect x="116.7" y="923" width="1.3" height="6.6" fill="#5e5a56"/>
<rect x="119.2" y="923" width="1.3" height="6.6" fill="#5e5a56"/>
<rect x="121.7" y="923" width="1.3" height="6.6" fill="#5e5a56"/>
<rect x="124.2" y="923" width="1.3" height="6.6" fill="#5e5a56"/>
<rect x="482.4" y="920.4" width="18.2" height="6.4" fill="#e6e5e3"/>
<rect x="482.8" y="920.4" width="1" height="6.4" fill="#a3a09d"/>
<rect x="485.1" y="920.4" width="1" height="6.4" fill="#a3a09d"/>
<rect x="487.40000000000003" y="920.4" width="1" height="6.4" fill="#a3a09d"/>
<rect x="489.7" y="920.4" width="1" height="6.4" fill="#a3a09d"/>
<rect x="492.0" y="920.4" width="1" height="6.4" fill="#a3a09d"/>
<rect x="494.3" y="920.4" width="1" height="6.4" fill="#a3a09d"/>
<rect x="496.6" y="920.4" width="1" height="6.4" fill="#a3a09d"/>
<rect x="498.90000000000003" y="920.4" width="1" height="6.4" fill="#a3a09d"/>
<path d="M176.400 960.6 l11 -3 l4 1.400 l-12 2.600 z M193 955.600 l9 -1.400 q5 3.400 1 7.400 l-7 .4 z" fill="#ebeae8" stroke="#a19e9b" stroke-width=".8"/>
<path d="M440 959.400 l-14 -1 l-5 .8 l12 1.400 z" fill="#e6e5e3" stroke="#b5b2af" stroke-width=".7"/>
<ellipse cx="412.4" cy="958.6" rx="4.2" ry="3.4" fill="#f3f3f3" stroke="#a5a29f" stroke-width="1"/>
<ellipse cx="302" cy="1031" rx="88" ry="2.600" fill="#cdcdcd" filter="url(#shadow)"/>
<g filter="url(#soft)">
<rect x="214" y="1016.800" width="176.400" height="13.600" rx="1.500" fill="#5a5653"/>
<rect x="234" y="1020.400" width="139" height="5.400" fill="#2d2926"/>
<rect x="216" y="1017" width="172" height="1.6" fill="#77736f"/>
<rect x="244" y="1021.4" width="6" height="1.6" fill="#8e8a87"/>
<rect x="262" y="1021.4" width="6" height="1.6" fill="#8e8a87"/>
<rect x="280" y="1021.4" width="6" height="1.6" fill="#8e8a87"/>
<rect x="300" y="1021.4" width="6" height="1.6" fill="#8e8a87"/>
<rect x="324" y="1021.4" width="6" height="1.6" fill="#8e8a87"/>
<rect x="342" y="1021.4" width="6" height="1.6" fill="#8e8a87"/>
<rect x="360" y="1021.4" width="6" height="1.6" fill="#8e8a87"/>
<rect x="285.6" y="1004" width="2" height="31" fill="#2a2624"/>
<path d="M284.20000000000005 1002 l2.400 -1 l1.400 10 l-3 0 z" fill="#2a2624"/>
<rect x="314.5" y="1004" width="2" height="31" fill="#2a2624"/>
<path d="M313.1 1002 l2.400 -1 l1.400 10 l-3 0 z" fill="#2a2624"/>
<rect x="346" y="1004" width="2" height="31" fill="#2a2624"/>
<path d="M344.6 1002 l2.400 -1 l1.400 10 l-3 0 z" fill="#2a2624"/>
<path d="M292 1016 v-10 h5.400 v10" fill="none" stroke="#3a3633" stroke-width="1.2"/>
</g>
<path d="M219.400 1038.600 h4.600 v3 h-.8 v6.200 h-3 v-6.200 h-.8 z" fill="#c6c4c2" stroke="#5d5a57" stroke-width=".7"/>
<path d="M383.600 1037 h4.400 v3 h-.8 v6.400 h-2.800 v-6.400 h-.8 z" fill="#8e8b88" stroke="#4d4a47" stroke-width=".7"/>
<text class="lbl" x="306" y="860.3">2280-021</text>
<text class="lbl" x="372.6" y="889.5">2460-26</text>
<text class="lbl" x="372.6" y="902.1">2280-52</text>
<text class="lbl" x="152.2" y="906.5">2280-011</text>
<text class="lbl" x="424" y="905.3">2280-011</text>
<text class="lbl" x="70.2" y="914.5">0441-4</text>
<text class="lbl" x="505.6" y="910.1">0441-4</text>
<text class="lbl" x="97.2" y="942.5">2022-80</text>
<text class="lbl" x="471.6" y="942.9">2022-80</text>
<text class="lbl" x="230.6" y="954.5">A</text>
<text class="lbl" x="264.4" y="954.5">B</text>
<text class="lbl" x="301.2" y="954.5">C</text>
<text class="lbl" x="338.6" y="954.5">D</text>
<text class="lbl" x="374" y="954.5">E</text>
<text class="lbl" x="171.4" y="974.9">2280-63</text>
<text class="lbl" x="281.2" y="974.9">2280-53</text>
<text class="lbl" x="403.6" y="974.7">2280-63</text>
<text class="lbl" x="308.4" y="991.5">2280-020</text>
<text class="lbl" x="178.2" y="1047.6">0151-2</text>
<text class="lbl" x="281.2" y="1047.6">2280-5</text>
<text class="lbl" x="392.8" y="1047.6">0151-2</text>
</g>
<text class="row" x="586.8" y="226.6">Order Nr.</text>
<rect x="586" y="238.300" width="206" height="1.100" fill="#333"/>
<text class="row" style="font-size:11.050px" x="586.6" y="255.0">2283-001</text>
<text class="row" word-spacing="-.8" x="656.2" y="255.0">Gehäuse komplett</text>
<text class="row" style="font-size:11.050px" x="586.6" y="271.2">0221-9</text>
<text class="row" word-spacing="-.8" x="656.2" y="271.2">Schraube</text>
<text class="row" style="font-size:11.050px" x="586.6" y="287.4">2280-20</text>
<text class="row" word-spacing="-.8" x="656.2" y="287.4">Pumpen und Leitern, Satz</text>
<text class="row" style="font-size:11.050px" x="586.6" y="303.6">2280.30</text>
<text class="row" word-spacing="-.8" x="656.2" y="303.6">Glocke</text>
<text class="row" style="font-size:11.050px" x="586.6" y="319.8">2280-12</text>
<text class="row" word-spacing="-.8" x="656.2" y="319.8">Fenster</text>
<text class="row" style="font-size:11.050px" x="586.6" y="336.0">2280-14</text>
<text class="row" word-spacing="-.8" x="656.2" y="336.0">Lichtverteiler hinten</text>
<text class="row" style="font-size:11.050px" x="586.6" y="352.2">2280-27</text>
<text class="row" word-spacing="-.8" x="656.2" y="352.2">Gewicht</text>
<text class="row" style="font-size:11.050px" x="586.6" y="368.4">2280-62</text>
<text class="row" word-spacing="-.8" x="656.2" y="368.4">Motorhalter</text>
<text class="row" style="font-size:11.050px" x="586.6" y="384.6">2280-015</text>
<text class="row" word-spacing="-.8" x="656.2" y="384.6">Motor</text>
<text class="row" style="font-size:11.050px" x="586.6" y="433.2">0100-29</text>
<text class="row" word-spacing="-.8" x="656.2" y="433.2">Kohlebürsten</text>
<text class="row" style="font-size:11.050px" x="586.6" y="449.4">0100-75</text>
<text class="row" word-spacing="-.8" x="656.2" y="449.4">Andruckfedern</text>
<text class="row" style="font-size:11.050px" x="586.6" y="465.6">2460-70</text>
<text class="row" word-spacing="-.8" x="656.2" y="465.6">Glühbirne</text>
<text class="row" style="font-size:11.050px" x="586.6" y="481.8">2281-002</text>
<text class="row" word-spacing="-.8" x="656.2" y="481.8">Fahrwerk komplett</text>
<text class="row" style="font-size:11.050px" x="586.6" y="514.8">2280-012</text>
<text class="row" word-spacing="-.8" x="656.2" y="514.8">Leiterplatte</text>
<text class="row" style="font-size:11.050px" x="586.6" y="531.1">2281-2</text>
<text class="row" word-spacing="-.8" x="656.2" y="531.1">Zylinderblock</text>
<text class="row" style="font-size:11.050px" x="586.6" y="547.4">2280-9/10</text>
<text class="row" word-spacing="-.8" x="656.2" y="547.4">Zylinderdeckel</text>
<text class="row" style="font-size:11.050px" x="586.6" y="563.7">2280-23</text>
<text class="row" word-spacing="-.8" x="656.2" y="563.7">Stufenzahnrad</text>
<text class="row" style="font-size:11.050px" x="586.6" y="579.9">0221-50</text>
<text class="row" word-spacing="-.8" x="656.2" y="579.9">Achse</text>
<text class="row" style="font-size:11.050px" x="586.6" y="596.1">2280-24</text>
<text class="row" word-spacing="-.8" x="656.2" y="596.1">Zahnrad</text>
<text class="row" style="font-size:11.050px" x="586.6" y="612.4">2280-13</text>
<text class="row" word-spacing="-.8" x="656.2" y="612.4">Lichtverteiler vorn</text>
<text class="row" style="font-size:11.050px" x="586.6" y="628.7">2280-013</text>
<text class="row" word-spacing="-.8" x="656.2" y="628.7">Lampenteil mit</text>
<text class="row" word-spacing="-.8" x="656.2" y="641.3">Griffstangen</text>
<text class="row" style="font-size:11.050px" x="586.6" y="657.5">2280-006</text>
<text class="row" word-spacing="-.8" x="656.2" y="657.5">Rahmen</text>
<text class="row" style="font-size:11.050px" x="586.6" y="706.0">2212-26</text>
<text class="row" word-spacing="-.8" x="656.2" y="706.0">Puffer gewölbt/rechts</text>
<text class="row" style="font-size:11.050px" x="586.6" y="722.2">2212-27</text>
<text class="row" word-spacing="-.8" x="656.2" y="722.2">Puffer flach/links</text>
<text class="row" style="font-size:11.050px" x="586.6" y="754.9">2280-021</text>
<text class="row" word-spacing="-.8" x="656.2" y="754.9">Steuerung rechts</text>
<text class="row" style="font-size:11.050px" x="586.6" y="771.1">2280-52</text>
<text class="row" word-spacing="-.8" x="656.2" y="771.1">Kuppelstange rechts</text>
<text class="row" style="font-size:11.050px" x="586.6" y="787.3">2460-26</text>
<text class="row" word-spacing="-.8" x="656.2" y="787.3">Bolzen</text>
<text class="row" style="font-size:11.050px" x="586.6" y="803.5">2270-007</text>
<text class="row" word-spacing="-.8" x="656.2" y="803.5">Radsatz A</text>
<text class="row" style="font-size:11.050px" x="586.6" y="819.8">2280-008</text>
<text class="row" word-spacing="-.8" x="656.2" y="819.8">Radsatz B mit Haftreifen</text>
<text class="row" style="font-size:11.050px" x="586.6" y="836.0">2280-009</text>
<text class="row" word-spacing="-.8" x="656.2" y="836.0">Radsatz C</text>
<text class="row" style="font-size:11.050px" x="586.6" y="852.3">2280-008</text>
<text class="row" word-spacing="-.8" x="656.2" y="852.3">Radsatz D mit Haftreifen</text>
<text class="row" style="font-size:11.050px" x="586.6" y="868.6">2280-007</text>
<text class="row" word-spacing="-.8" x="656.2" y="868.6">Radsatz E</text>
<text class="row" style="font-size:11.050px" x="586.6" y="884.9">0202-52</text>
<text class="row" word-spacing="-.8" x="656.2" y="884.9">Haftreifen</text>
<text class="row" style="font-size:11.050px" x="586.6" y="901.2">2280-020</text>
<text class="row" word-spacing="-.8" x="656.2" y="901.2">Steuerung links</text>
<text class="row" style="font-size:11.050px" x="586.6" y="917.5">2280-53</text>
<text class="row" word-spacing="-.8" x="656.2" y="917.5">Kuppelstange links</text>
<text class="row" style="font-size:11.050px" x="586.6" y="933.8">2280-011</text>
<text class="row" word-spacing="-.8" x="656.2" y="933.8">Vorläufer</text>
<text class="row" style="font-size:11.050px" x="586.6" y="950.1">2280-63</text>
<text class="row" word-spacing="-.8" x="656.2" y="950.1">Vorläufer-Feder</text>
<text class="row" style="font-size:11.050px" x="586.6" y="966.4">0441-4</text>
<text class="row" word-spacing="-.8" x="656.2" y="966.4">Kupplung</text>
<text class="row" style="font-size:11.050px" x="586.6" y="982.6">2022-80</text>
<text class="row" word-spacing="-.8" x="656.2" y="982.6">Kupplungsfeder</text>
<text class="row" style="font-size:11.050px" x="586.6" y="998.8">2280-5</text>
<text class="row" word-spacing="-.8" x="656.2" y="998.8">Achshalter</text>
<text class="row" style="font-size:11.050px" x="586.6" y="1015.0">0151-2</text>
<text class="row" word-spacing="-.8" x="656.2" y="1015.0">Schraube</text>
<g><rect x="586.5" y="393.9" width="8.600" height="1.500" fill="#6a6a6a"/><path d="M586.5 396.59999999999997 h9.400 l1.600 1 v1.800 l-1.600 .9 h-9.400 z" fill="#141414"/><rect x="620.10" y="394.09999999999997" width="1.300" height="2.400" fill="#5a5a5a"/><rect x="620.10" y="397.5" width="1.700" height="3.200" fill="#2a2a2a"/><rect x="622.66" y="394.09999999999997" width="1.300" height="2.400" fill="#5a5a5a"/><rect x="622.66" y="397.5" width="1.700" height="3.200" fill="#2a2a2a"/><rect x="625.22" y="394.09999999999997" width="1.300" height="2.400" fill="#5a5a5a"/><rect x="625.22" y="397.5" width="1.700" height="3.200" fill="#2a2a2a"/><rect x="627.78" y="394.09999999999997" width="1.300" height="2.400" fill="#5a5a5a"/><rect x="627.78" y="397.5" width="1.700" height="3.200" fill="#2a2a2a"/><rect x="630.34" y="394.09999999999997" width="1.300" height="2.400" fill="#5a5a5a"/><rect x="630.34" y="397.5" width="1.700" height="3.200" fill="#2a2a2a"/><rect x="632.90" y="394.09999999999997" width="1.300" height="2.400" fill="#5a5a5a"/><rect x="632.90" y="397.5" width="1.700" height="3.200" fill="#2a2a2a"/><rect x="635.46" y="394.09999999999997" width="1.300" height="2.400" fill="#5a5a5a"/><rect x="635.46" y="397.5" width="1.700" height="3.200" fill="#2a2a2a"/><rect x="638.02" y="394.09999999999997" width="1.300" height="2.400" fill="#5a5a5a"/><rect x="638.02" y="397.5" width="1.700" height="3.200" fill="#2a2a2a"/><rect x="640.58" y="394.09999999999997" width="1.300" height="2.400" fill="#5a5a5a"/><rect x="640.58" y="397.5" width="1.700" height="3.200" fill="#2a2a2a"/><rect x="643.14" y="394.09999999999997" width="1.300" height="2.400" fill="#5a5a5a"/><rect x="643.14" y="397.5" width="1.700" height="3.200" fill="#2a2a2a"/></g>
<g><rect x="586.5" y="410.5" width="8.600" height="1.500" fill="#6a6a6a"/><path d="M586.5 413.2 h9.400 l1.600 1 v1.800 l-1.600 .9 h-9.400 z" fill="#141414"/><rect x="620.10" y="410.7" width="1.300" height="2.400" fill="#5a5a5a"/><rect x="620.10" y="414.1" width="1.700" height="3.200" fill="#2a2a2a"/><rect x="622.66" y="410.7" width="1.300" height="2.400" fill="#5a5a5a"/><rect x="622.66" y="414.1" width="1.700" height="3.200" fill="#2a2a2a"/><rect x="625.22" y="410.7" width="1.300" height="2.400" fill="#5a5a5a"/><rect x="625.22" y="414.1" width="1.700" height="3.200" fill="#2a2a2a"/><rect x="627.78" y="410.7" width="1.300" height="2.400" fill="#5a5a5a"/><rect x="627.78" y="414.1" width="1.700" height="3.200" fill="#2a2a2a"/><rect x="630.34" y="410.7" width="1.300" height="2.400" fill="#5a5a5a"/><rect x="630.34" y="414.1" width="1.700" height="3.200" fill="#2a2a2a"/><rect x="632.90" y="410.7" width="1.300" height="2.400" fill="#5a5a5a"/><rect x="632.90" y="414.1" width="1.700" height="3.200" fill="#2a2a2a"/><rect x="635.46" y="410.7" width="1.300" height="2.400" fill="#5a5a5a"/><rect x="635.46" y="414.1" width="1.700" height="3.200" fill="#2a2a2a"/><rect x="638.02" y="410.7" width="1.300" height="2.400" fill="#5a5a5a"/><rect x="638.02" y="414.1" width="1.700" height="3.200" fill="#2a2a2a"/><rect x="640.58" y="410.7" width="1.300" height="2.400" fill="#5a5a5a"/><rect x="640.58" y="414.1" width="1.700" height="3.200" fill="#2a2a2a"/><rect x="643.14" y="410.7" width="1.300" height="2.400" fill="#5a5a5a"/><rect x="643.14" y="414.1" width="1.700" height="3.200" fill="#2a2a2a"/></g>
<g><path d="M588.8000000000001 664.1 q-3.600 1.600 -3.600 5.500 q0 3.900 3.600 5.500 z" fill="#141414"/><rect x="588.2" y="667.6" width="8" height="4" fill="#1c1c1c"/><rect x="595.8000000000001" y="667.7" width="7.400" height="3.800" fill="#5c5c5c"/><rect x="590.2" y="669.0" width="6" height="1.100" fill="#e8e8e8"/></g>
<g><rect x="586" y="680.4" width="2.200" height="11" fill="#141414"/><rect x="588" y="683.9" width="8" height="4" fill="#1c1c1c"/><rect x="595.6" y="684.0" width="7.400" height="3.800" fill="#5c5c5c"/><rect x="590" y="685.3" width="6" height="1.100" fill="#e8e8e8"/></g>
</svg>
</body>
</html>
